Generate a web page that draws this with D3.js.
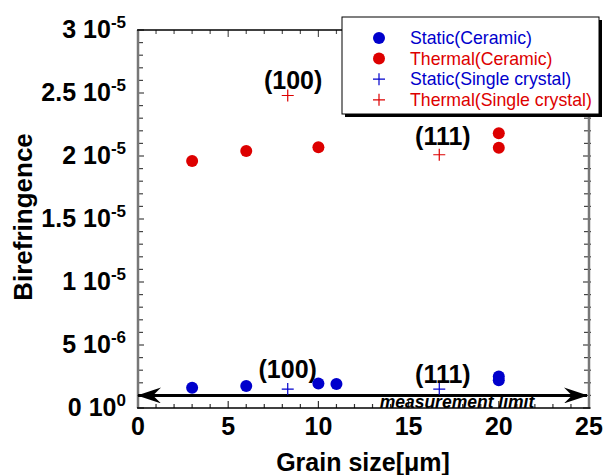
<!DOCTYPE html>
<html><head><meta charset="utf-8">
<script src="https://cdn.jsdelivr.net/npm/d3@7"></script>
<style>body{margin:0;background:#fff}svg{display:block}</style>
</head><body>
<script>
const staticCeramicX = [3, 6, 10, 11, 20, 20];
const staticCeramicY = [1.6e-6, 1.75e-6, 1.95e-6, 1.9e-6, 2.5e-6, 2.2e-6];
const thermalCeramicX = [3, 6, 10, 20, 20];
const thermalCeramicY = [19.6e-6, 20.4e-6, 20.7e-6, 21.8e-6, 20.65e-6];
const staticSingleX = [8.3, 16.7];
const staticSingleY = [1.5e-6, 1.5e-6];
const thermalSingleX = [8.3, 16.7];
const thermalSingleY = [24.8e-6, 20.1e-6];
const xTicks = [0, 5, 10, 15, 20, 25];
const yTickMant = ["0", "5", "1", "1.5", "2", "2.5", "3"];
const yTickExp = ["0", "-6", "-5", "-5", "-5", "-5", "-5"];
const yTickVals = [0, 5e-6, 1e-5, 1.5e-5, 2e-5, 2.5e-5, 3e-5];
const legendLabels = ["Static(Ceramic)", "Thermal(Ceramic)", "Static(Single crystal)", "Thermal(Single crystal)"];
const annLabels = ["(100)", "(111)", "(100)", "(111)"];
const annX = [8.6, 16.9, 8.3, 16.9];
const annY = [25.3e-6, 20.9e-6, 2.4e-6, 2.0e-6];
const limitValue = 1.0e-6;

const W = 605, H = 475;
const L = 138, R = 589, T = 30, B = 408;
const blue = "#0000cc", red = "#dd0000";
const svg = d3.select("body").append("svg").attr("width", W).attr("height", H)
  .style("font-family", "'Liberation Sans', Arial, sans-serif");
const x = d3.scaleLinear().domain([0, 25]).range([L, R]);
const y = d3.scaleLinear().domain([0, 3e-5]).range([B, T]);

// ticks
const g = svg.append("g").attr("stroke-width", 1.2);
d3.range(0, 26, 1).forEach(v => {
  const len = v % 5 === 0 ? 7 : 4;
  g.append("line").attr("x1", x(v)).attr("x2", x(v)).attr("y1", B).attr("y2", B - len).attr("stroke", "#333");
  g.append("line").attr("x1", x(v)).attr("x2", x(v)).attr("y1", T).attr("y2", T + len).attr("stroke", "#555");
});
d3.range(0, 31, 1).forEach(i => {
  const v = i * 1e-6;
  const len = i % 5 === 0 ? 6 : 5;
  g.append("line").attr("y1", y(v)).attr("y2", y(v)).attr("x1", L).attr("x2", L + len).attr("stroke", "#444");
  g.append("line").attr("y1", y(v)).attr("y2", y(v)).attr("x1", R + 2).attr("x2", R - len).attr("stroke", "#444");
});

// frame
svg.append("line").attr("x1", L).attr("x2", L).attr("y1", T).attr("y2", B).attr("stroke", "#777").attr("stroke-width", 2.5);
svg.append("line").attr("x1", R).attr("x2", R).attr("y1", T).attr("y2", B).attr("stroke", "#777").attr("stroke-width", 2.5);
svg.append("line").attr("x1", L - 1).attr("x2", R + 1).attr("y1", T).attr("y2", T).attr("stroke", "#000").attr("stroke-width", 1.5);
svg.append("line").attr("x1", L - 1).attr("x2", R + 1).attr("y1", B).attr("y2", B).attr("stroke", "#000").attr("stroke-width", 1.5);

// x tick labels
svg.append("g").selectAll("text").data(xTicks).join("text")
  .attr("x", d => x(d)).attr("y", 435).attr("text-anchor", "middle")
  .attr("font-size", 25).attr("font-weight", "bold").text(d => d);

// y tick labels
yTickVals.forEach((v, i) => {
  const t = svg.append("text").attr("x", 126).attr("y", y(v) + 8)
    .attr("text-anchor", "end").attr("font-size", 25).attr("font-weight", "bold");
  t.append("tspan").text(yTickMant[i] + " 10");
  t.append("tspan").attr("dy", -10).attr("font-size", 17).text(yTickExp[i]);
});

// axis titles
svg.append("text").attr("x", 363).attr("y", 471).attr("text-anchor", "middle")
  .attr("font-size", 25).attr("font-weight", "bold").text("Grain size[\u03bcm]");
svg.append("text").attr("transform", "translate(32,217) rotate(-90)").attr("text-anchor", "middle")
  .attr("font-size", 26).attr("font-weight", "bold").text("Birefringence");

// measurement limit arrow
svg.append("defs").html(
  '<marker id="ah" viewBox="0 0 24 16" refX="23" refY="8" markerWidth="24" markerHeight="16" markerUnits="userSpaceOnUse" orient="auto-start-reverse">' +
  '<path d="M0,0 L24,8 L0,16 L8,8 Z" fill="#000"/></marker>');
svg.append("line").attr("x1", x(0)).attr("x2", x(25) - 2).attr("y1", y(limitValue)).attr("y2", y(limitValue))
  .attr("stroke", "#000").attr("stroke-width", 3)
  .attr("marker-start", "url(#ah)").attr("marker-end", "url(#ah)");
svg.append("text").attr("x", 457).attr("y", 408).attr("text-anchor", "middle")
  .attr("font-size", 17.5).attr("font-weight", "bold").attr("font-style", "italic").text("measurement limit");

// annotations
svg.append("g").selectAll("text").data(annLabels).join("text")
  .attr("x", (d, i) => x(annX[i])).attr("y", (d, i) => y(annY[i])).attr("text-anchor", "middle")
  .attr("font-size", 25).attr("font-weight", "bold").text(d => d);

// points
function dots(xs, ys, col) {
  svg.append("g").selectAll("circle").data(xs.map((d, i) => [d, ys[i]])).join("circle")
    .attr("cx", d => x(d[0])).attr("cy", d => y(d[1])).attr("r", 6).attr("fill", col);
}
function plus(xs, ys, col) {
  svg.append("g").selectAll("path").data(xs.map((d, i) => [d, ys[i]])).join("path")
    .attr("transform", d => `translate(${x(d[0])},${y(d[1])})`)
    .attr("d", "M-6,0H6M0,-6V6").attr("stroke", col).attr("stroke-width", 1.2).attr("fill", "none");
}
dots(staticCeramicX, staticCeramicY, blue);
dots(thermalCeramicX, thermalCeramicY, red);
plus(staticSingleX, staticSingleY, blue);
plus(thermalSingleX, thermalSingleY, red);

// legend
const lg = svg.append("g");
lg.append("rect").attr("x", 345).attr("y", 20).attr("width", 257).attr("height", 97).attr("fill", "#000");
lg.append("rect").attr("x", 342).attr("y", 17).attr("width", 257).attr("height", 97)
  .attr("fill", "#fff").attr("stroke", "#000").attr("stroke-width", 1);
const cols = [blue, red, blue, red];
legendLabels.forEach((lab, i) => {
  const cy = 38 + i * 20.6;
  if (i < 2) lg.append("circle").attr("cx", 379).attr("cy", cy).attr("r", 6).attr("fill", cols[i]);
  else lg.append("path").attr("transform", `translate(379,${cy})`).attr("d", "M-6,0H6M0,-6V6")
    .attr("stroke", cols[i]).attr("stroke-width", 1.2);
  lg.append("text").attr("x", 410).attr("y", cy + 6).attr("font-size", 17.7).attr("fill", cols[i]).text(lab);
});
</script>
</body></html>
